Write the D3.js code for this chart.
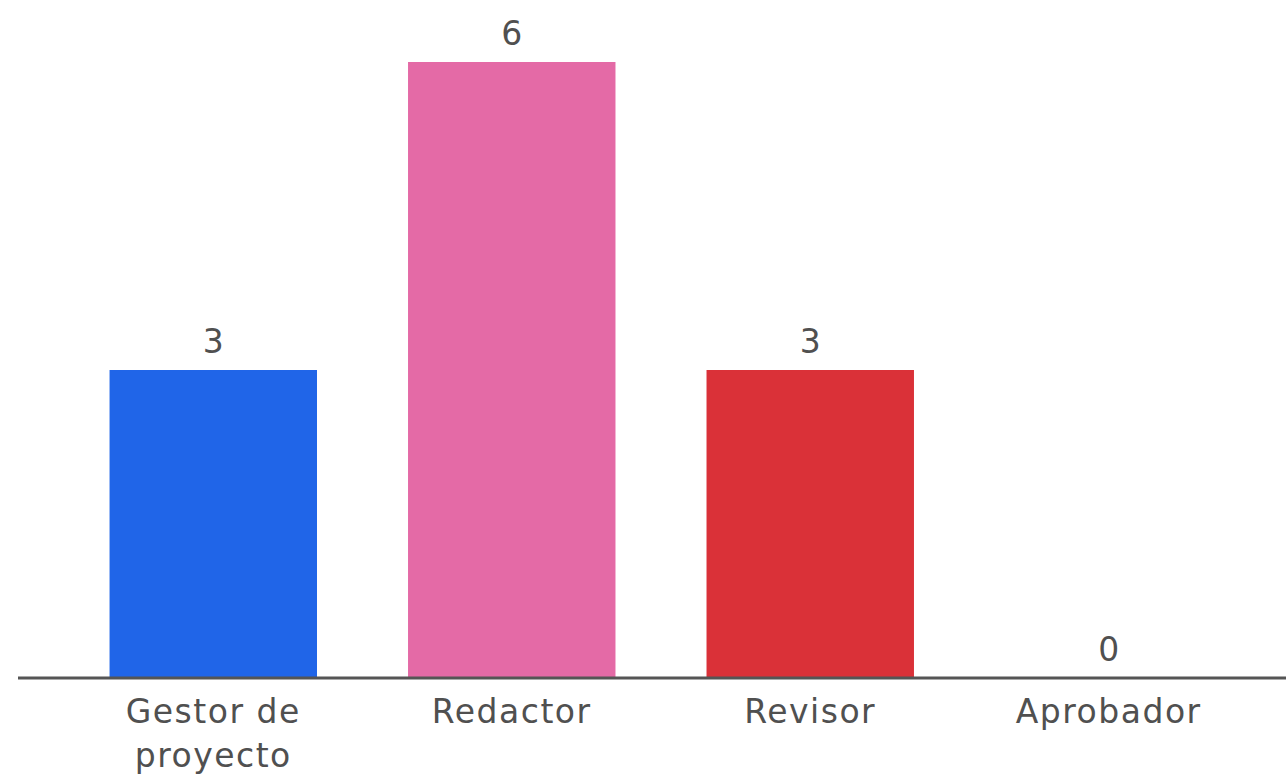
<!DOCTYPE html>
<html>
<head>
<meta charset="utf-8">
<script src="https://cdn.jsdelivr.net/npm/d3@7"></script>
<style>
  html, body { margin: 0; padding: 0; background: #ffffff; }
  svg { display: block; }
</style>
</head>
<body>
<svg id="chart" width="1286" height="775"></svg>
<script>
// Roles and how many people hold each one
const roles = ["Gestor de proyecto", "Redactor", "Revisor", "Aprobador"];
const roleLines = [["Gestor de", "proyecto"], ["Redactor"], ["Revisor"], ["Aprobador"]];
const counts = [3, 6, 3, 0];
const barColors = ["#2065e8", "#e46aa6", "#da3138", "#888888"];

const svg = d3.select("#chart");
const W = 1286, H = 775;
const baseY = 678, topY = 62;

const x = d3.scaleBand()
  .domain(roles)
  .range([20, 1302])
  .paddingInner(0.305)
  .paddingOuter(0.3);

const y = d3.scaleLinear()
  .domain([0, 6])
  .range([baseY, topY]);

const font = "'DejaVu Sans', 'Noto Sans', sans-serif";
const textColor = "#505050";

// Bars
svg.append("g")
  .selectAll("rect")
  .data(roles)
  .join("rect")
  .attr("x", d => x(d))
  .attr("y", (d, i) => y(counts[i]))
  .attr("width", x.bandwidth())
  .attr("height", (d, i) => baseY - y(counts[i]))
  .attr("fill", (d, i) => barColors[i]);

// Value labels above each bar
svg.append("g")
  .selectAll("text")
  .data(roles)
  .join("text")
  .attr("x", d => x(d) + x.bandwidth() / 2)
  .attr("y", (d, i) => y(counts[i]) - 17)
  .attr("text-anchor", "middle")
  .attr("font-family", font)
  .attr("font-size", 33)
  .attr("fill", textColor)
  .text((d, i) => counts[i]);

// Baseline axis
const axis = d3.axisBottom(x).tickSize(0).tickFormat("");
const axisG = svg.append("g")
  .attr("transform", `translate(0,${baseY})`)
  .call(axis);
axisG.select(".domain").remove();
svg.append("line")
  .attr("x1", 18).attr("x2", W)
  .attr("y1", baseY).attr("y2", baseY)
  .attr("stroke", "#555555")
  .attr("stroke-width", 3);

// Category labels (wrapped onto two lines where needed)
const labels = svg.append("g")
  .selectAll("text")
  .data(roles)
  .join("text")
  .attr("x", d => x(d) + x.bandwidth() / 2)
  .attr("y", baseY + 45)
  .attr("text-anchor", "middle")
  .attr("font-family", font)
  .attr("font-size", 33)
  .attr("letter-spacing", 1.5)
  .attr("fill", textColor);

labels.each(function(d, i) {
  const t = d3.select(this);
  roleLines[i].forEach((line, k) => {
    t.append("tspan")
      .attr("x", x(d) + x.bandwidth() / 2)
      .attr("dy", k === 0 ? 0 : 44)
      .text(line);
  });
});
</script>
</body>
</html>
